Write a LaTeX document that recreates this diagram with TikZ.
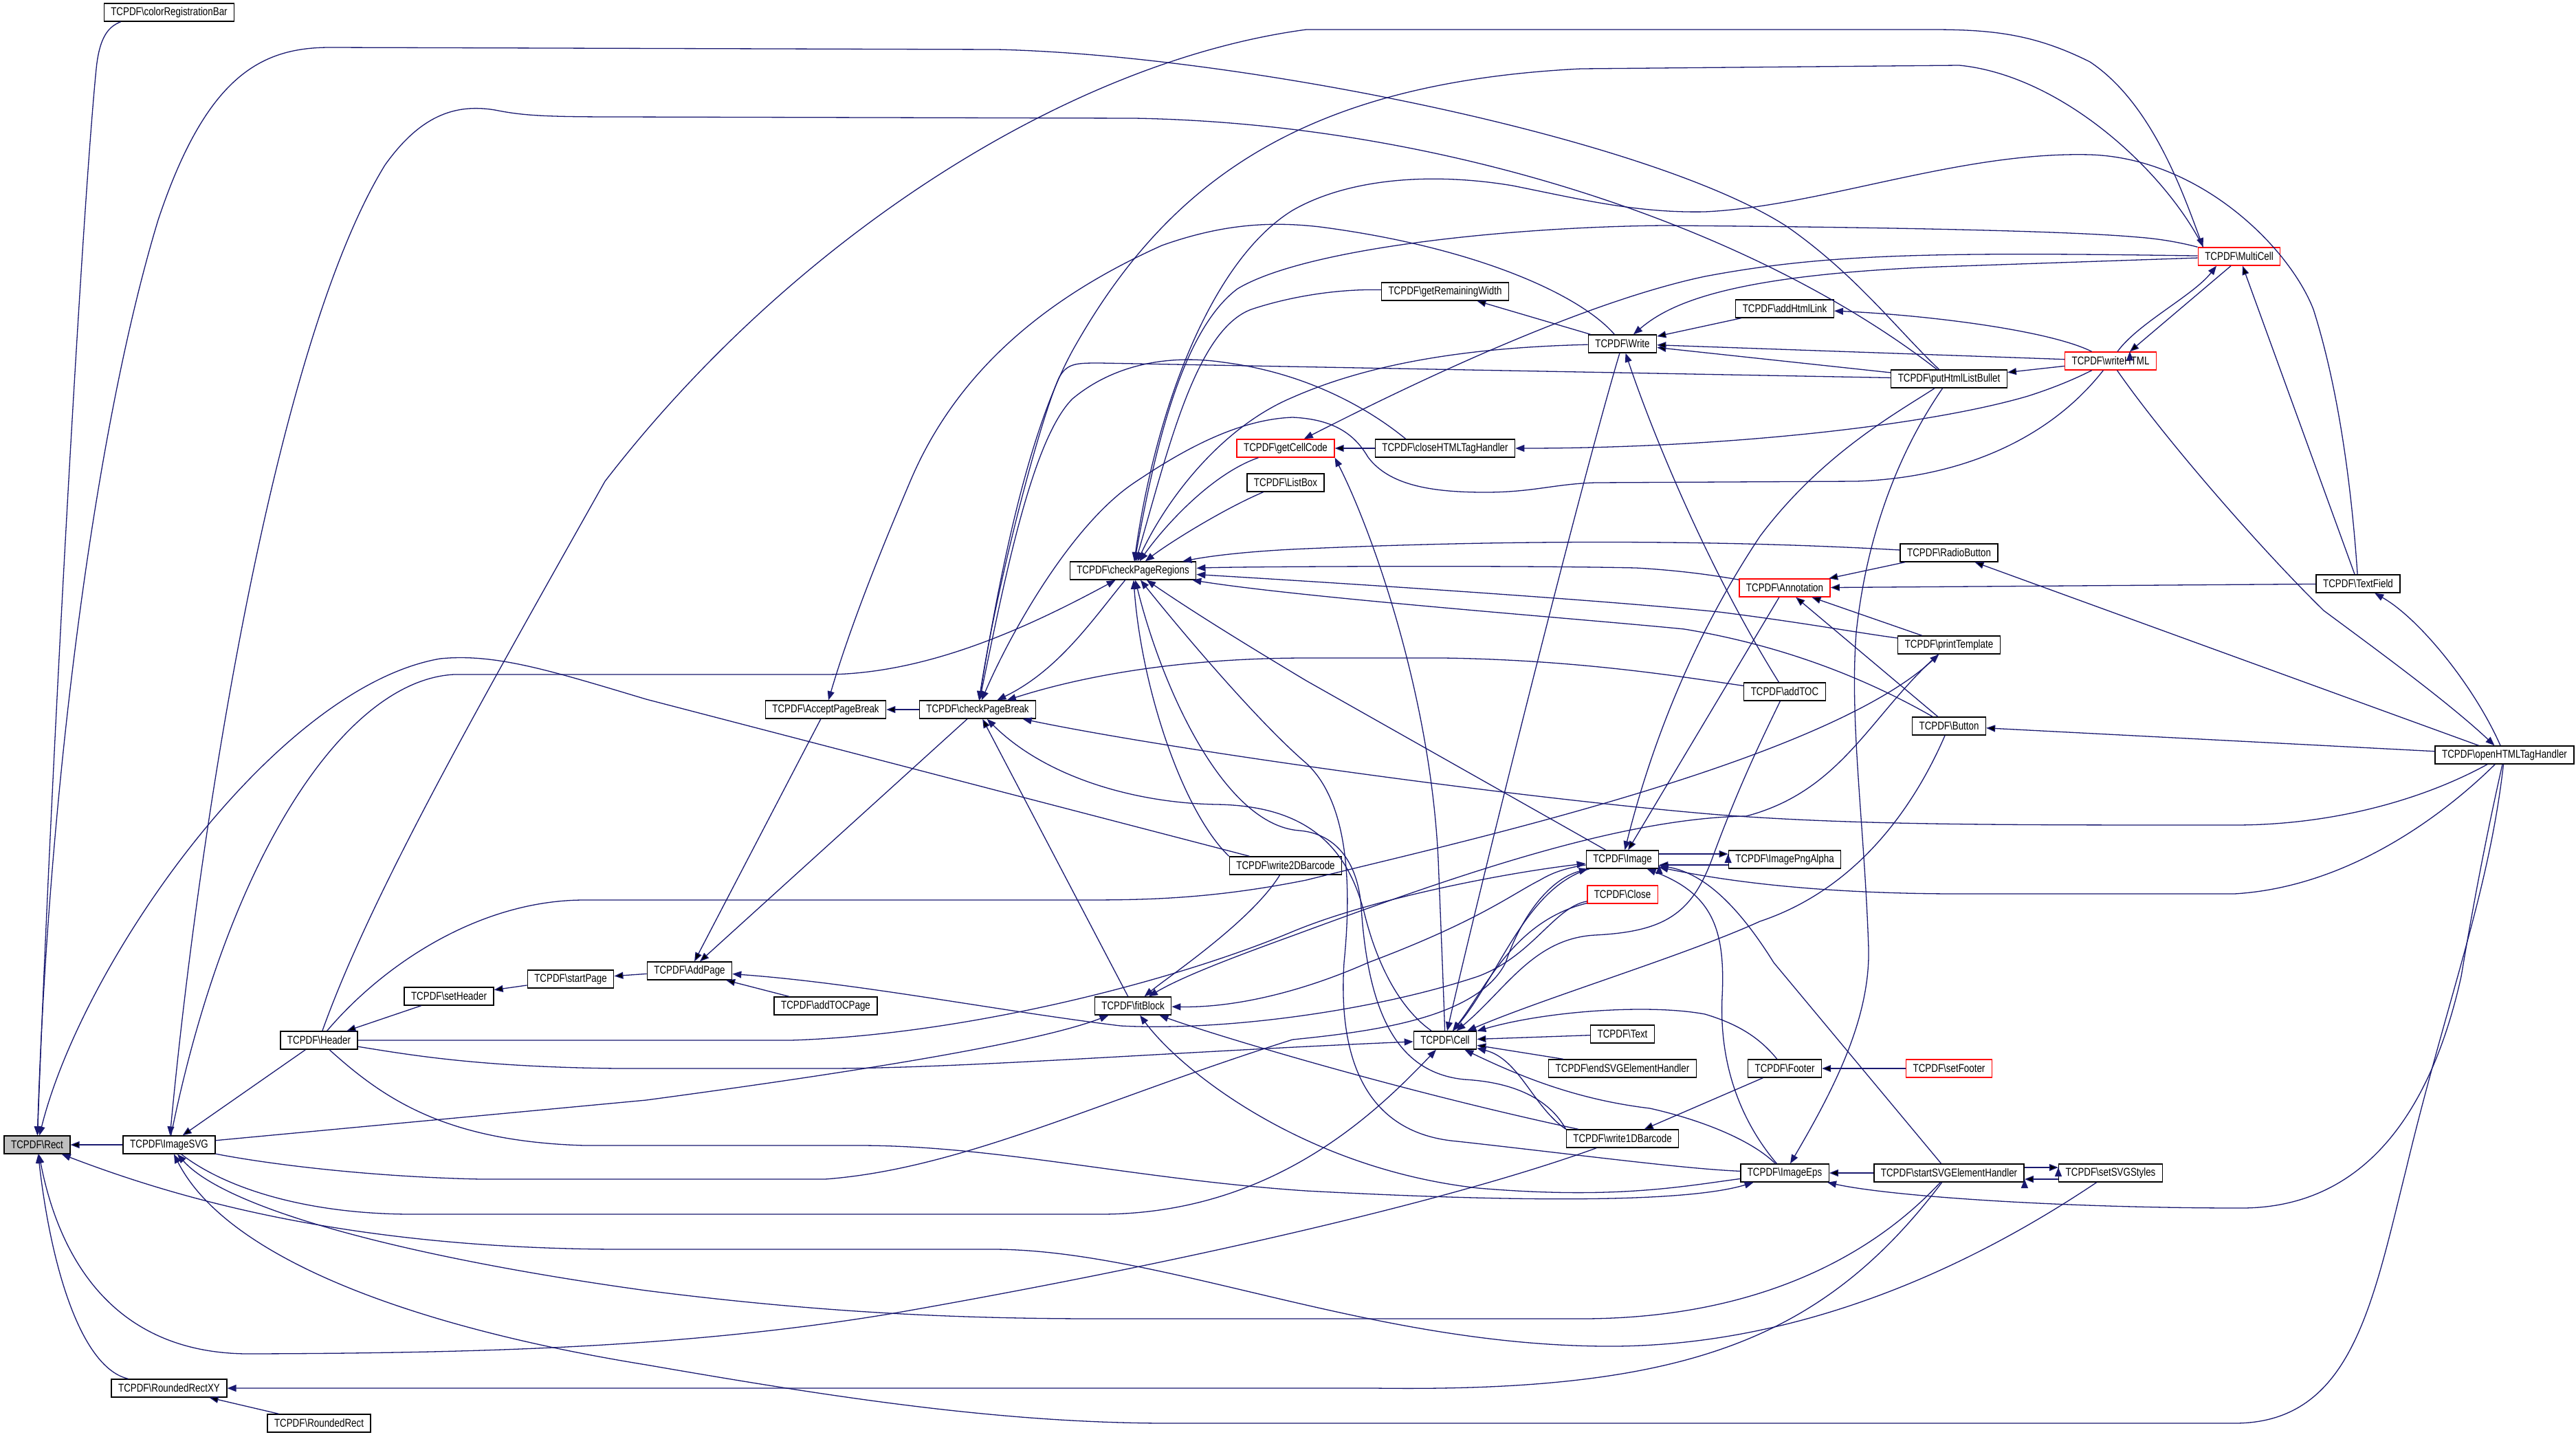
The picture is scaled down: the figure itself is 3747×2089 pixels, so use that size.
\documentclass[tikz,border=0pt]{standalone}
\usepackage{fontspec}
\setmainfont{Liberation Sans}[FakeStretch=0.81]
\usepackage{tikz}
\usetikzlibrary{arrows.meta}
\definecolor{edgeblue}{RGB}{25,25,112}
\newcommand{\fnfont}{\fontsize{16.5}{18}\selectfont}
\newcommand{\tcpdf}{TCPDF\textbackslash}
\tikzstyle{fn}=[rectangle,draw=black,line width=1.4pt,fill=white,
minimum height=26pt,inner xsep=10pt,inner ysep=0pt,font=\fnfont]
\tikzstyle{fnred}=[fn,draw=red]
\tikzstyle{fnroot}=[fn,fill=gray!50]
\tikzstyle{call}=[<-,draw=edgeblue,line width=1.3pt]

\begin{document}
\begin{tikzpicture}[x=1pt,y=-1pt,>={Triangle[length=13pt,width=10pt]}]
            \useasboundingbox (0,0) rectangle (3747,2089);

            % FUNCTIONS

            \node[fnroot] (rect) at (54,1665) {\tcpdf Rect};
            \node[fn] (colorreg) at (246,18) {\tcpdf colorRegistrationBar};
            \node[fn] (imagesvg) at (246,1665) {\tcpdf ImageSVG};
            \node[fn] (roundedrectxy) at (246,2019) {\tcpdf RoundedRectXY};
            \node[fn] (roundedrect) at (464,2070) {\tcpdf RoundedRect};
            \node[fn] (header) at (464,1513) {\tcpdf Header};
            \node[fn] (setheader) at (653,1449) {\tcpdf setHeader};
            \node[fn] (startpage) at (830,1424) {\tcpdf startPage};
            \node[fn] (addpage) at (1003,1412) {\tcpdf AddPage};
            \node[fn] (addtocpage) at (1201,1463) {\tcpdf addTOCPage};
            \node[fn] (acceptpb) at (1201,1032) {\tcpdf AcceptPageBreak};
            \node[fn] (checkpb) at (1422,1032) {\tcpdf checkPageBreak};
            \node[fn] (checkpr) at (1648,830) {\tcpdf checkPageRegions};
            \node[fn] (fitblock) at (1648,1463) {\tcpdf fitBlock};
            \node[fnred] (getcellcode) at (1870,652) {\tcpdf getCellCode};
            \node[fn] (listbox) at (1870,702) {\tcpdf ListBox};
            \node[fn] (write2d) at (1870,1259) {\tcpdf write2DBarcode};
            \node[fn] (getremw) at (2102,424) {\tcpdf getRemainingWidth};
            \node[fn] (closehtml) at (2102,652) {\tcpdf closeHTMLTagHandler};
            \node[fn] (cell) at (2102,1513) {\tcpdf Cell};
            \node[fn] (write) at (2360,500) {\tcpdf Write};
            \node[fn] (image) at (2360,1250) {\tcpdf Image};
            \node[fnred] (close) at (2360,1301) {\tcpdf Close};
            \node[fn] (text) at (2360,1504) {\tcpdf Text};
            \node[fn] (endsvg) at (2360,1554) {\tcpdf endSVGElementHandler};
            \node[fn] (write1d) at (2360,1656) {\tcpdf write1DBarcode};
            \node[fn] (addhtmllink) at (2596,449) {\tcpdf addHtmlLink};
            \node[fnred] (annotation) at (2596,855) {\tcpdf Annotation};
            \node[fn] (addtoc) at (2596,1006) {\tcpdf addTOC};
            \node[fn] (imagepng) at (2596,1250) {\tcpdf ImagePngAlpha};
            \node[fn] (footer) at (2596,1554) {\tcpdf Footer};
            \node[fn] (imageeps) at (2596,1706) {\tcpdf ImageEps};
            \node[fn] (puthtml) at (2835,551) {\tcpdf putHtmlListBullet};
            \node[fn] (radiobutton) at (2835,804) {\tcpdf RadioButton};
            \node[fn] (printtemplate) at (2835,938) {\tcpdf printTemplate};
            \node[fn] (button) at (2835,1056) {\tcpdf Button};
            \node[fnred] (setfooter) at (2835,1554) {\tcpdf setFooter};
            \node[fn] (startsvg) at (2835,1706) {\tcpdf startSVGElementHandler};
            \node[fnred] (writehtml) at (3070,525) {\tcpdf writeHTML};
            \node[fn] (setsvgstyles) at (3070,1706) {\tcpdf setSVGStyles};
            \node[fnred] (multicell) at (3257,373) {\tcpdf MultiCell};
            \node[fn] (textfield) at (3430,849) {\tcpdf TextField};
            \node[fn] (openhtml) at (3643,1098) {\tcpdf openHTMLTagHandler};

            % Rect PART

            \draw[call] (rect) .. controls (75,1100) and (120,300) .. (140,100) .. controls (145,50) and (160,38) .. ([xshift=25pt]colorreg.south west);
            \path[call] (rect) edge (imagesvg);
            \draw[call] (rect) .. controls (75,1850) and (120,1990) .. (roundedrectxy);
            \draw[call] (rect) .. controls (68,1200) and (130,650) .. (230,320) .. controls (300,110) and (380,69) .. (480,69) -- (1450,72) .. controls (1800,80) and (2400,200) .. (2600,330) .. controls (2700,400) and (2760,480) .. (puthtml);
            \draw[call] (rect) .. controls (120,1400) and (400,1000) .. (640,958) .. controls (720,950) and (800,975) .. (940,1017) -- (write2d);
            \draw[call] (rect) .. controls (250,1740) and (500,1816) .. (900,1817) -- (1450,1817) .. controls (1700,1820) and (2000,1960) .. (2350,1958) .. controls (2650,1955) and (2900,1820) .. (setsvgstyles);
            \draw[call] (rect) .. controls (90,1850) and (180,1968) .. (360,1969) .. controls (700,1968) and (1000,1960) .. (1300,1910) .. controls (1700,1840) and (2100,1750) .. (write1d);
            \path[call] (roundedrectxy) edge (roundedrect);
            \draw[call] (roundedrectxy) -- (2000,2019) .. controls (2450,2025) and (2650,1950) .. (startsvg);

            % ImageSVG PART

            \path[call] (imagesvg) edge (header);
            \draw[call] (imagesvg) .. controls (290,1200) and (400,500) .. (560,240) .. controls (610,170) and (660,150) .. (720,160) .. controls (760,168) and (790,170) .. (900,170) -- (1650,172) .. controls (2100,180) and (2550,330) .. (puthtml);
            \draw[call] (imagesvg) .. controls (330,1760) and (600,1830) .. (940,1877) .. controls (1200,1910) and (1400,1918) .. (1600,1918) -- (2300,1918) .. controls (2550,1918) and (2720,1830) .. (startsvg);
            \draw[call] (imagesvg) .. controls (330,1830) and (600,1930) .. (940,1985) .. controls (1200,2030) and (1450,2070) .. (1700,2070) -- (3250,2070) .. controls (3420,2070) and (3450,1900) .. (3500,1700) .. controls (3560,1450) and (3620,1300) .. (openhtml);
            \draw[call] (checkpr) .. controls (1500,910) and (1350,981) .. (1200,981) -- (660,981) .. controls (500,990) and (330,1250) .. (imagesvg);
            \draw[call] (fitblock) .. controls (1500,1520) and (1200,1565) .. (940,1600) -- (imagesvg);
            \draw[call] (cell) .. controls (2000,1620) and (1850,1766) .. (1600,1766) -- (600,1766) .. controls (450,1766) and (330,1730) .. (imagesvg);
            \draw[call] (image) .. controls (2250,1280) and (2210,1340) .. (2190,1400) .. controls (2150,1480) and (2000,1500) .. (1880,1512) .. controls (1600,1600) and (1400,1700) .. (1200,1715) -- (700,1715) .. controls (550,1712) and (400,1695) .. (imagesvg);

            % Header / AddPage PART

            \path[call] (header) edge (setheader);
            \path[call] (setheader) edge (startpage);
            \path[call] (startpage) edge (addpage);
            \path[call] (addpage) edge (acceptpb);
            \path[call] (addpage) edge (checkpb);
            \path[call] (addpage) edge (addtocpage);
            \draw[call] (addpage) .. controls (1250,1430) and (1450,1470) .. (1630,1492) .. controls (1780,1500) and (2000,1470) .. (2150,1420) .. controls (2230,1390) and (2260,1320) .. (close);
            \path[call] (acceptpb) edge (checkpb);
            \draw[call] (acceptpb) .. controls (1240,900) and (1290,780) .. (1324,700) .. controls (1400,520) and (1550,420) .. (1690,357) .. controls (1780,325) and (1850,322) .. (1920,330) .. controls (2150,360) and (2300,430) .. (write);
            \draw[call] ([xshift=8pt]multicell.north west) .. controls (3175,280) and (3130,150) .. (3040,90) .. controls (2960,50) and (2900,43) .. (2810,43) -- (1900,43) .. controls (1550,90) and (1150,350) .. (880,700) .. controls (700,1020) and (540,1300) .. (header);
            \draw[call] (printtemplate) .. controls (2650,1110) and (2100,1230) .. (1900,1280) .. controls (1750,1310) and (1650,1309) .. (1550,1309) -- (850,1309) .. controls (700,1309) and (560,1400) .. (header);
            \draw[call] (image) .. controls (2200,1268) and (2000,1305) .. (1880,1355) .. controls (1700,1430) and (1400,1505) .. (1150,1513) -- (header);
            \draw[call] (cell) .. controls (1700,1530) and (1400,1554) .. (1200,1554) -- (900,1554) .. controls (700,1552) and (600,1535) .. (header);
            \draw[call] (imageeps) .. controls (2450,1750) and (2200,1748) .. (1900,1732) .. controls (1650,1715) and (1450,1666) .. (1250,1666) -- (850,1666) .. controls (650,1660) and (560,1600) .. (header);

            % checkPageBreak PART

            \draw[call] (checkpb) .. controls (1540,975) and (1590,900) .. (checkpr);
            \draw[call] (checkpb) .. controls (1460,800) and (1500,620) .. (1560,510) .. controls (1700,260) and (1900,120) .. (2300,100) -- (2850,95) .. controls (3000,110) and (3150,250) .. ([xshift=8pt]multicell.north west);
            \draw[call] (checkpb) .. controls (1450,850) and (1510,620) .. (1540,550) .. controls (1552,528) and (1565,528) .. (1600,528) -- (puthtml);
            \draw[call] (checkpb) .. controls (1460,850) and (1500,640) .. (1560,580) .. controls (1620,530) and (1700,515) .. (1780,527) .. controls (1920,545) and (2010,610) .. ([xshift=45pt]closehtml.north west);
            \draw[call] (checkpb) .. controls (1470,920) and (1560,760) .. (1653,700) .. controls (1720,655) and (1800,610) .. (1880,607) .. controls (1950,610) and (1975,640) .. (1990,665) .. controls (2020,705) and (2080,716) .. (2160,716) .. controls (2230,716) and (2260,704) .. (2320,702) -- (2700,700) .. controls (2850,695) and (2980,640) .. (writehtml);
            \draw[call] (checkpb) .. controls (1600,975) and (1750,957) .. (1900,957) -- (2100,957) .. controls (2300,960) and (2450,985) .. (addtoc);
            \draw[call] (checkpb) .. controls (1700,1090) and (2200,1160) .. (2500,1185) .. controls (2700,1200) and (2900,1200) .. (3250,1200) .. controls (3400,1200) and (3530,1160) .. (openhtml);
            \path[call] (checkpb) edge (fitblock);
            \draw[call] (checkpb) .. controls (1520,1130) and (1650,1168) .. (1770,1170) .. controls (1900,1172) and (1960,1230) .. (1985,1330) .. controls (2005,1410) and (2040,1470) .. (cell);

            % checkPageRegions PART

            \draw[call] (checkpr) .. controls (1690,770) and (1760,690) .. (getcellcode);
            \draw[call] (checkpr) .. controls (1700,790) and (1780,740) .. (listbox);
            \draw[call] (checkpr) .. controls (1700,720) and (1780,620) .. (1880,578) .. controls (2000,525) and (2150,505) .. (write);
            \draw[call] (checkpr) .. controls (1700,650) and (1740,480) .. (1820,450) .. controls (1880,430) and (1950,420) .. (getremw);
            \draw[call] (checkpr) .. controls (1680,650) and (1720,480) .. (1800,420) .. controls (1900,360) and (2200,330) .. (2420,328) .. controls (2700,330) and (3000,335) .. (3110,345) .. controls (3150,348) and (3180,355) .. (multicell.north west);
            \draw[call] (checkpr) .. controls (1680,600) and (1760,380) .. (1880,306) .. controls (1960,260) and (2080,250) .. (2200,270) .. controls (2300,290) and (2380,310) .. (2480,308) .. controls (2650,300) and (2850,220) .. (3040,225) .. controls (3200,230) and (3330,360) .. (3365,450) .. controls (3400,560) and (3420,700) .. (textfield);
            \draw[call] (checkpr) .. controls (1780,805) and (1850,800) .. (1900,798) .. controls (2200,785) and (2500,785) .. (radiobutton);
            \draw[call] (checkpr) .. controls (1800,824) and (2200,822) .. (2380,826) .. controls (2450,830) and (2500,838) .. (annotation);
            \draw[call] (checkpr) .. controls (1900,845) and (2300,870) .. (2500,890) .. controls (2620,905) and (2700,920) .. (printtemplate);
            \draw[call] (checkpr) .. controls (1900,870) and (2300,900) .. (2450,915) .. controls (2600,940) and (2720,990) .. (button);
            \draw[call] (checkpr) .. controls (1750,900) and (1850,960) .. (1900,990) -- (image);
            \draw[call] (checkpr) .. controls (1660,1000) and (1720,1180) .. (write2d.north west);
            \draw[call] (checkpr) .. controls (1690,1000) and (1780,1200) .. (1890,1208) .. controls (1940,1212) and (1975,1250) .. (1980,1320) .. controls (1990,1470) and (2030,1560) .. (2130,1570) .. controls (2220,1575) and (2260,1610) .. (write1d.north west);
            \draw[call] (checkpr) .. controls (1720,920) and (1830,1050) .. (1900,1110) .. controls (1965,1170) and (1965,1300) .. (1955,1400) .. controls (1945,1560) and (2000,1650) .. (2120,1660) .. controls (2300,1680) and (2450,1700) .. (imageeps);

            % fitBlock PART

            \draw[call] (fitblock) .. controls (1800,1466) and (1900,1440) .. (1990,1400) .. controls (2150,1340) and (2200,1300) .. (2240,1280) .. controls (2260,1268) and (2280,1262) .. (image);
            \draw[call] (fitblock) .. controls (1700,1420) and (1820,1340) .. (write2d);
            \draw[call] (fitblock) .. controls (1780,1510) and (2050,1590) .. (write1d);
            \draw[call] (fitblock) .. controls (1720,1560) and (1900,1700) .. (2150,1728) .. controls (2350,1745) and (2450,1725) .. (imageeps);
            \draw[call] (fitblock) .. controls (1720,1420) and (1800,1390) .. (1880,1361) .. controls (2100,1280) and (2350,1190) .. (2540,1187) .. controls (2680,1150) and (2720,1040) .. (printtemplate);

            % getCellCode / Write PART

            \path[call] (getcellcode) edge (closehtml);
            \draw[call] (getcellcode) .. controls (2050,560) and (2300,440) .. (2480,402) .. controls (2650,370) and (2800,366) .. (multicell);
            \draw[call] (getcellcode.south east) .. controls (1990,760) and (2080,1000) .. (2092,1250) .. controls (2098,1400) and (2100,1450) .. (cell);
            \path[call] (getremw) edge (write);
            \draw[call] (closehtml) .. controls (2500,652) and (2800,620) .. (2950,576) .. controls (3000,560) and (3030,545) .. (writehtml);
            \path[call] (write) edge (addhtmllink);
            \path[call] (write) edge (puthtml);
            \path[call] (write) edge (writehtml);
            \draw[call] (write) .. controls (2430,440) and (2520,400) .. (2820,388) -- (multicell);
            \draw[call] (write) .. controls (2400,620) and (2480,820) .. (addtoc);
            \draw[call] (cell) .. controls (2150,1300) and (2300,700) .. (write);

            % writeHTML / openHTMLTagHandler PART

            \draw[call] (addhtmllink) .. controls (2800,458) and (2980,480) .. (writehtml);
            \path[call] (puthtml) edge (writehtml);
            \draw[call] ([xshift=-33pt]multicell.south) .. controls (3190,430) and (3110,470) .. ([xshift=10pt]writehtml.north);
            \path[call] ([xshift=28pt]writehtml.north) edge ([xshift=-12pt]multicell.south);
            \path[call] (multicell) edge (textfield);
            \draw[call] (openhtml) .. controls (3560,1020) and (3450,940) .. (3380,888) .. controls (3290,800) and (3150,640) .. (writehtml);
            \draw[call] (textfield) .. controls (3520,900) and (3600,1000) .. (openhtml);
            \path[call] (radiobutton) edge (openhtml);
            \path[call] (button) edge (openhtml);
            \draw[call] (image) .. controls (2550,1290) and (2700,1300) .. (2850,1300) -- (3250,1300) .. controls (3420,1290) and (3560,1180) .. (openhtml);
            \draw[call] (imageeps) .. controls (2750,1740) and (3000,1757) .. (3260,1757) .. controls (3450,1757) and (3540,1600) .. (3580,1420) .. controls (3600,1300) and (3620,1200) .. (openhtml);

            % Annotation / Image PART

            \path[call] (annotation) edge (radiobutton);
            \path[call] (annotation) edge (textfield);
            \path[call] (annotation) edge (button);
            \path[call] (annotation) edge (printtemplate);
            \path[call] (image) edge (annotation);
            \draw[call] (image) .. controls (2410,1050) and (2480,900) .. (2560,780) .. controls (2650,660) and (2760,600) .. (puthtml);
            \draw[call] (imageeps) .. controls (2670,1580) and (2720,1480) .. (2718,1380) .. controls (2712,1200) and (2690,1050) .. (2700,920) .. controls (2715,780) and (2760,660) .. (puthtml);
            \path[call] ([yshift=8pt]imagepng.west) edge ([yshift=8pt]image.east);
            \path[call] ([yshift=-8pt]image.east) edge ([yshift=-8pt]imagepng.west);
            \draw[call] (image) .. controls (2480,1270) and (2530,1320) .. (2580,1400) -- (startsvg);
            \draw[call] (image) .. controls (2490,1300) and (2510,1350) .. (2505,1450) .. controls (2500,1560) and (2540,1640) .. (imageeps);

            % Cell PART

            \draw[call] (cell) .. controls (2160,1440) and (2200,1340) .. (close);
            \draw[call] (cell) .. controls (2180,1420) and (2220,1290) .. (image);
            \draw[call] (cell) .. controls (2190,1440) and (2230,1365) .. (2320,1360) .. controls (2420,1355) and (2460,1330) .. (2490,1250) .. controls (2530,1140) and (2570,1060) .. (addtoc);
            \draw[call] (cell) .. controls (2250,1450) and (2450,1390) .. (2560,1340) .. controls (2710,1290) and (2790,1160) .. (button);
            \path[call] (cell) edge (text);
            \path[call] (cell) edge (endsvg);
            \draw[call] (cell) .. controls (2210,1540) and (2230,1610) .. (write1d.north west);
            \draw[call] (cell) .. controls (2250,1470) and (2400,1460) .. (2480,1475) .. controls (2530,1490) and (2560,1510) .. (footer);
            \draw[call] (cell) .. controls (2220,1570) and (2300,1600) .. (2400,1612) .. controls (2480,1630) and (2550,1660) .. (imageeps);
            \path[call] (write1d) edge (footer);
            \path[call] (footer) edge (setfooter);

            % SVG PART

            \path[call] (imageeps) edge (startsvg);
            \path[call] ([yshift=8pt]setsvgstyles.west) edge ([yshift=8pt]startsvg.east);
            \path[call] ([yshift=-9pt]startsvg.east) edge ([yshift=-9pt]setsvgstyles.west);

\end{tikzpicture}
\end{document}
